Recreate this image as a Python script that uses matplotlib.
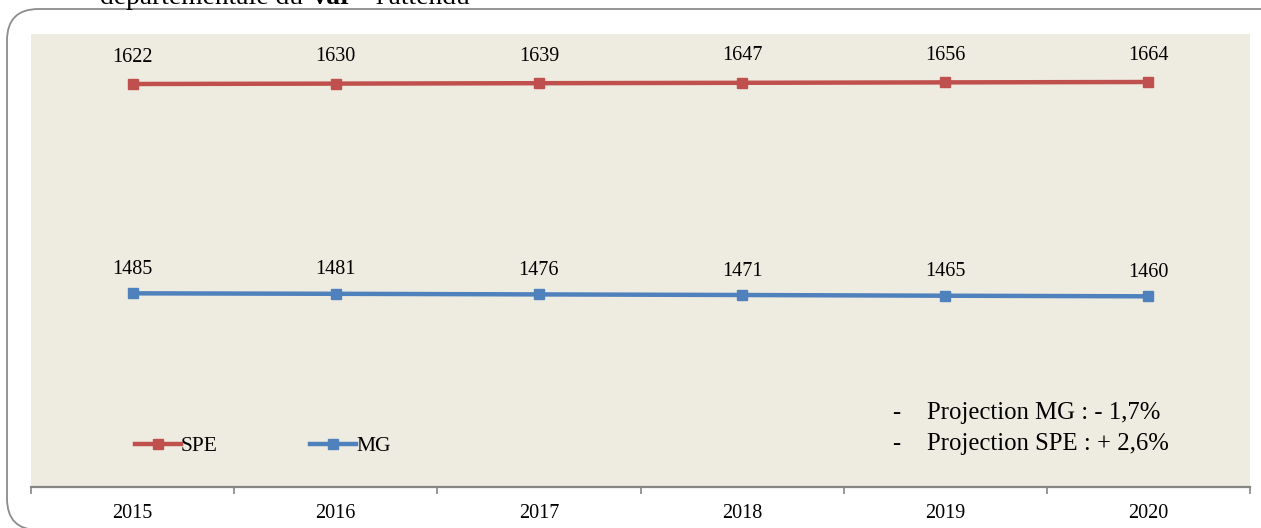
import matplotlib
matplotlib.use("Agg")
import matplotlib.pyplot as plt
from matplotlib.patches import FancyBboxPatch
from matplotlib.lines import Line2D

years = ["2015", "2016", "2017", "2018", "2019", "2020"]
spe = [1622, 1630, 1639, 1647, 1656, 1664]
mg = [1485, 1481, 1476, 1471, 1465, 1460]
notes = ["Projection MG : - 1,7%", "Projection SPE : + 2,6%"]

W, H = 1261, 528
plt.rcParams['font.family'] = ['Liberation Serif', 'DejaVu Serif']
fig = plt.figure(figsize=(W / 100, H / 100), dpi=100)

RED = "#C0504D"
BLUE = "#4F81BD"
BG = "#EEEBE0"

# outer rounded frame
frame = FancyBboxPatch((7 / W, 1 - 530 / H), (1300 - 7) / W, (530 - 9) / H,
                       boxstyle="round,pad=0,rounding_size=0.025",
                       transform=fig.transFigure, facecolor="white",
                       edgecolor="#8C8C8C", linewidth=1.3, mutation_aspect=W / H,
                       zorder=-5)
fig.patches.append(frame)

# header text (partially cut)
r = fig.canvas.get_renderer()
x0 = 100 / W
yb = 1 - 4 / H
t1 = fig.text(x0, yb, "départementale du ", fontsize=19.8, va="baseline")
bb = t1.get_window_extent(r)
t2 = fig.text(bb.x1 / W, yb, "Var", fontsize=19.8, va="baseline", fontweight="bold")
bb2 = t2.get_window_extent(r)
fig.text(bb2.x1 / W, yb, " - l'attendu", fontsize=19.8, va="baseline")

left, right, top, bottom = 31, 1250, 34, 487
ax = fig.add_axes([left / W, 1 - bottom / H, (right - left) / W, (bottom - top) / H])
ax.set_facecolor(BG)
ax2 = ax.twinx()

x = list(range(len(years)))
ax.plot(x, spe, color=RED, lw=3.2, marker="s", ms=7.5, solid_capstyle="round")
ax2.plot(x, mg, color=BLUE, lw=3.2, marker="s", ms=7.5, solid_capstyle="round")

# scales: each series on its own axis
ax.set_ylim(-6841, 2672)
ax2.set_ylim(-129, 3646)
ax.set_xlim(-0.5, len(years) - 0.5)

for xi, v in zip(x, spe):
    ax.annotate(str(v), (xi, v), xytext=(0, 27), textcoords="offset pixels",
                ha="center", va="center", fontsize=14.5)
for xi, v in zip(x, mg):
    ax2.annotate(str(v), (xi, v), xytext=(0, 24), textcoords="offset pixels",
                 ha="center", va="center", fontsize=14.5)

for a in (ax, ax2):
    for s in ("top", "left", "right"):
        a.spines[s].set_visible(False)
    a.set_yticks([])
ax2.spines["bottom"].set_visible(False)
ax.spines["bottom"].set_color("#868686")
ax.spines["bottom"].set_linewidth(1.6)

ax.set_xticks(x)
ax.set_xticklabels(years, fontsize=14.5)
ax.tick_params(axis="x", which="major", length=0, pad=12)
ax.set_xticks([i - 0.5 for i in range(len(years) + 1)], minor=True)
ax.tick_params(axis="x", which="minor", length=5, width=1.2, color="#868686")

handles = [Line2D([], [], color=RED, lw=3.2, marker="s", ms=7.5),
           Line2D([], [], color=BLUE, lw=3.2, marker="s", ms=7.5)]
leg = ax.legend(handles, ["SPE", "MG"], ncol=2, frameon=False, fontsize=15.5,
                loc="center left",
                bbox_to_anchor=((132 - left - 16) / (right - left), (bottom - 446) / (bottom - top)),
                handlelength=2.1, handletextpad=0.02, columnspacing=4.3)

for i, n in enumerate(notes):
    yy = (bottom - (413 + 31 * i)) / (bottom - top)
    ax.text((892 - left) / (right - left), yy, "-", transform=ax.transAxes,
            fontsize=17.8, va="center", ha="left")
    ax.text((927 - left) / (right - left), yy, n, transform=ax.transAxes,
            fontsize=17.8, va="center", ha="left")

fig.savefig("out.png", dpi=100)
